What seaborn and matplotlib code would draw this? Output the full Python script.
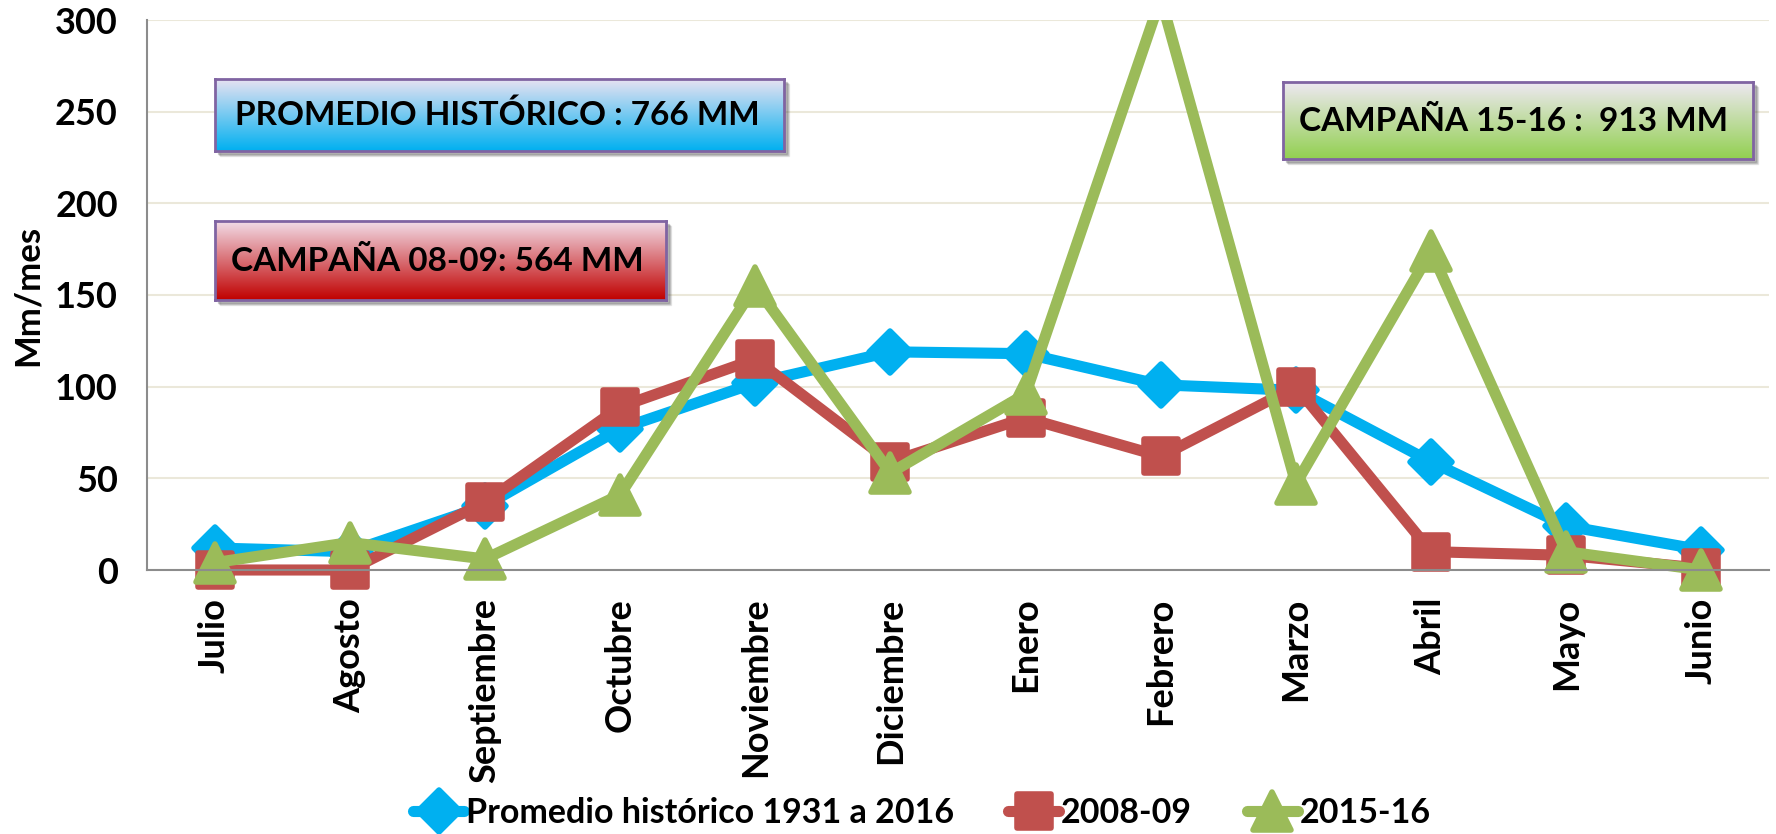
import numpy as np
import pandas as pd
import matplotlib
matplotlib.use("Agg")
import matplotlib.pyplot as plt
from matplotlib.colors import LinearSegmentedColormap
from matplotlib.markers import MarkerStyle
from matplotlib.patches import Rectangle
import seaborn as sns

meses = ["Julio", "Agosto", "Septiembre", "Octubre", "Noviembre", "Diciembre",
         "Enero", "Febrero", "Marzo", "Abril", "Mayo", "Junio"]
promedio = [12, 10, 35, 77, 102, 119, 118, 101, 98, 59, 24, 11]
camp_0809 = [0, 0, 37, 89, 115, 59, 83, 62, 100, 10, 8, 1]
camp_1516 = [4, 15, 6, 41, 155, 53, 96, 312, 47, 174, 10, 0]
series = ["Promedio histórico 1931 a 2016", "2008-09", "2015-16"]
colores = ["#00b0f0", "#c0504d", "#9bbb59"]
y_ticks = [0, 50, 100, 150, 200, 250, 300]

df = pd.DataFrame({
    "mes": meses * 3,
    "pos": list(range(12)) * 3,
    "valor": promedio + camp_0809 + camp_1516,
    "serie": [series[0]] * 12 + [series[1]] * 12 + [series[2]] * 12,
})

sns.set_style("white")
plt.rcParams["font.family"] = ["Lato", "DejaVu Sans"]
plt.rcParams["font.weight"] = "bold"
plt.rcParams["text.color"] = "black"
plt.rcParams["xtick.color"] = "black"
plt.rcParams["ytick.color"] = "black"
plt.rcParams["axes.labelcolor"] = "black"

fig = plt.figure(figsize=(17.76, 8.34), dpi=100)
ax = fig.add_axes([147 / 1776, 1 - 570 / 834, 1622 / 1776, 550 / 834])

markers = {
    series[0]: MarkerStyle("D", joinstyle="round"),
    series[1]: MarkerStyle("s", joinstyle="round"),
    series[2]: MarkerStyle("^", joinstyle="round"),
}
msizes = {series[0]: 21, series[1]: 25, series[2]: 27}

for s, c in zip(series, colores):
    d = df[df["serie"] == s]
    sns.lineplot(data=d, x="pos", y="valor", ax=ax, color=c, lw=8, sort=False,
                 marker=markers[s], markersize=msizes[s], mec=c, mew=4,
                 label=s, legend=False, solid_joinstyle="round")

# clip only at the top so markers at 0 stay whole
clip = Rectangle((-0.1, -0.2), 1.2, 1.2, transform=ax.transAxes, visible=False)
ax.add_patch(clip)
for ln in ax.lines:
    ln.set_clip_path(clip)

ax.set_xlim(-0.5, 11.5)
ax.set_ylim(0, 300)
ax.set_yticks(y_ticks)
ax.set_yticklabels([str(v) for v in y_ticks], fontsize=26, fontweight="bold")
ax.set_xticks(range(12))
ax.set_xticklabels(meses, rotation=90, fontsize=26, fontweight="bold")
ax.set_xticks(np.arange(-0.5, 12, 1), minor=True)
ax.tick_params(axis="x", which="major", length=0, pad=20)
ax.tick_params(axis="x", which="minor", length=11, width=1.5, color="#8c8c8c", direction="out")
ax.tick_params(axis="y", length=11, width=1.5, color="#8c8c8c", direction="out", pad=10)
ax.set_xlabel("")
ax.set_ylabel("Mm/mes", fontsize=25, fontweight="bold", labelpad=8)
ax.yaxis.grid(True, color="#ebe8da", lw=1.5)
ax.set_axisbelow(True)
for sp in ["top", "right"]:
    ax.spines[sp].set_visible(False)
for sp in ["left", "bottom"]:
    ax.spines[sp].set_color("#8c8c8c")
    ax.spines[sp].set_linewidth(1.5)

handles, labels = ax.get_legend_handles_labels()
fig.legend(handles, labels, loc="center", bbox_to_anchor=(0.519, 1 - 813 / 834), ncol=3,
           frameon=False, fontsize=24.5, handlelength=1.5, columnspacing=1.6,
           handletextpad=0.05, markerscale=1.0)


def caja(x0, y0, x1, y1, top, bottom, texto):
    W, H = 1776, 834
    for k, a in enumerate([0.10, 0.15, 0.2]):
        off = 5 - k
        fig.patches.append(Rectangle(((x0 + off) / W, 1 - (y1 + off) / H), (x1 - x0) / W,
                                     (y1 - y0) / H, transform=fig.transFigure,
                                     color="#404040", alpha=a, zorder=5))
    bx = fig.add_axes([x0 / W, 1 - y1 / H, (x1 - x0) / W, (y1 - y0) / H], zorder=6)
    cmap = LinearSegmentedColormap.from_list("g", [top, bottom])
    grad = np.linspace(0, 1, 256).reshape(-1, 1)
    bx.imshow(grad, aspect="auto", cmap=cmap, extent=[0, 1, 1, 0])
    bx.set_xlim(0, 1)
    bx.set_ylim(1, 0)
    bx.set_xticks([])
    bx.set_yticks([])
    for sp in bx.spines.values():
        sp.set_color("#8064a2")
        sp.set_linewidth(2)
    bx.text(0.035, 0.5, texto, fontsize=24, fontweight="bold", va="center", ha="left",
            transform=bx.transAxes)


caja(215, 79, 784, 151, "#e8e2f2", "#00b0f0", "PROMEDIO HISTÓRICO : 766 MM")
caja(215, 221, 666, 300, "#f2dde8", "#c00000", "CAMPAÑA 08-09: 564 MM")
caja(1283, 82, 1753, 159, "#eee8f2", "#92d050", "CAMPAÑA 15-16 :  913 MM")

fig.savefig("out.png", dpi=100)
